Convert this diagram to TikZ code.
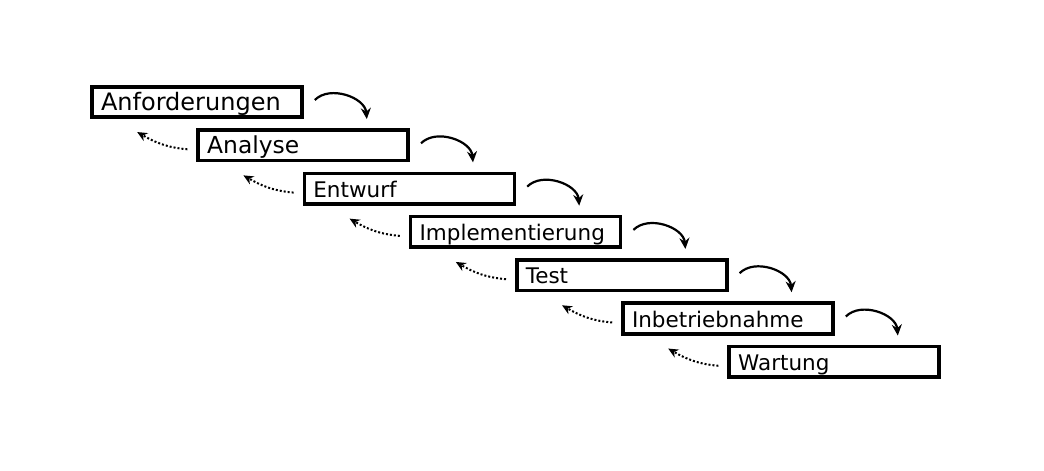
\documentclass[tikz,border=0pt]{standalone}
\usepackage{fontspec}
\setmainfont{DejaVu Sans}
\usetikzlibrary{arrows.meta}

\begin{document}
\begin{tikzpicture}[x=1pt,y=-1pt,
	phase/.style={draw,line width=3.6pt,text width=192pt,align=left,inner xsep=9pt,inner ysep=2pt,minimum height=30.5pt,text height=18pt,text depth=1pt,font=\fontsize{21.5}{24}\selectfont},
	fwd/.style={-{Stealth[length=11pt,width=10pt]},line width=2.2pt},
	back/.style={-{Stealth[length=10pt,width=9pt]},line width=2pt,dash pattern=on 2pt off 2pt}]
	\useasboundingbox (0,0) rectangle (1044,471);
	\node[phase,font=\fontsize{24}{28}\selectfont] (anf) at (197,102) {Anforderungen};
	\node[phase,font=\fontsize{23.4}{28}\selectfont] (ana) at (303.2,145.3) {Analyse};
	\node[phase] (ent) at (409.4,188.6) {Entwurf};
	\node[phase] (imp) at (515.6,231.9) {Implementierung};
	\node[phase] (tes) at (621.8,275.2) {Test};
	\node[phase] (inb) at (728,318.5) {Inbetriebnahme};
	\node[phase] (war) at (834.2,361.8) {Wartung};
	% forward steps
	\draw[fwd] ([shift={(11pt,2pt)}]anf.east) to[out=45,in=95] ([xshift=63pt]anf.south east);
	\draw[fwd] ([shift={(11pt,2pt)}]ana.east) to[out=45,in=95] ([xshift=63pt]ana.south east);
	\draw[fwd] ([shift={(11pt,2pt)}]ent.east) to[out=45,in=95] ([xshift=63pt]ent.south east);
	\draw[fwd] ([shift={(11pt,2pt)}]imp.east) to[out=45,in=95] ([xshift=63pt]imp.south east);
	\draw[fwd] ([shift={(11pt,2pt)}]tes.east) to[out=45,in=95] ([xshift=63pt]tes.south east);
	\draw[fwd] ([shift={(11pt,2pt)}]inb.east) to[out=45,in=95] ([xshift=63pt]inb.south east);
	% steps back
	\draw[back] ([shift={(-9pt,-4pt)}]ana.west) to[out=175,in=-30] ([shift={(47pt,-13pt)}]anf.south west);
	\draw[back] ([shift={(-9pt,-4pt)}]ent.west) to[out=175,in=-30] ([shift={(47pt,-13pt)}]ana.south west);
	\draw[back] ([shift={(-9pt,-4pt)}]imp.west) to[out=175,in=-30] ([shift={(47pt,-13pt)}]ent.south west);
	\draw[back] ([shift={(-9pt,-4pt)}]tes.west) to[out=175,in=-30] ([shift={(47pt,-13pt)}]imp.south west);
	\draw[back] ([shift={(-9pt,-4pt)}]inb.west) to[out=175,in=-30] ([shift={(47pt,-13pt)}]tes.south west);
	\draw[back] ([shift={(-9pt,-4pt)}]war.west) to[out=175,in=-30] ([shift={(47pt,-13pt)}]inb.south west);
\end{tikzpicture}
\end{document}
